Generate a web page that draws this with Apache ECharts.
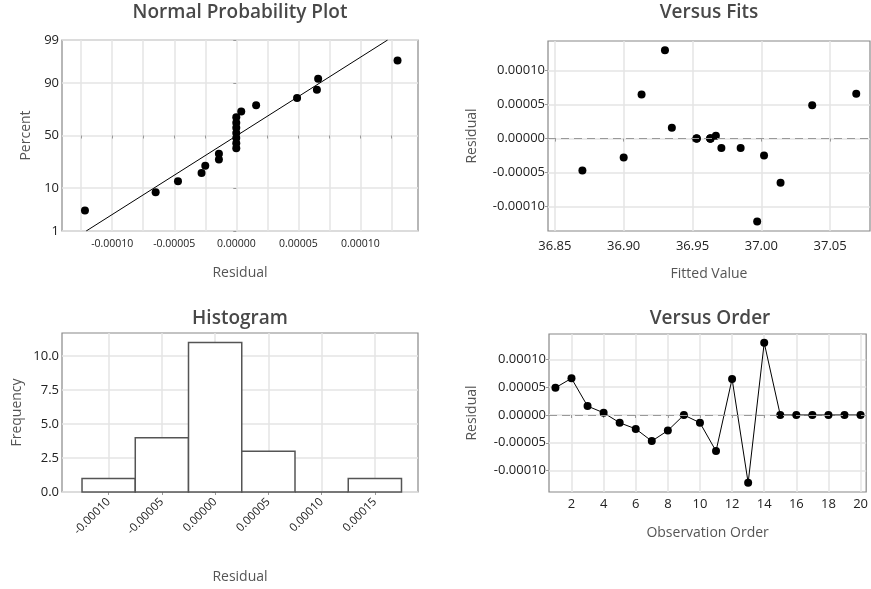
<!DOCTYPE html>
<html>
<head>
<meta charset="utf-8">
<script src="https://cdn.jsdelivr.net/npm/echarts@6/dist/echarts.min.js"></script>
<style>
  html, body { margin: 0; background: #fff; }
  #main { width: 871px; height: 589px; }
</style>
</head>
<body>
<div id="main"></div>
<script>
// residuals in observation order, with the fitted value of each observation
var observations = [1, 2, 3, 4, 5, 6, 7, 8, 9, 10, 11, 12, 13, 14, 15, 16, 17, 18, 19, 20];
var residuals = [0.000049, 0.000066, 0.000016, 0.000004, -0.000014, -0.000025, -0.000047, -0.000028, 0, -0.000014,
  -0.000065, 0.000065, -0.000122, 0.00013, 0, 0, 0, 0, 0, 0];
var fittedValues = [37.037, 37.069, 36.935, 36.967, 36.971, 37.002, 36.870, 36.900, 36.953, 36.985,
  37.014, 36.913, 36.997, 36.930, 36.963, 36.963, 36.953, 36.963, 36.953, 36.963];

// normal probability plot: sorted residuals and their plotted percent
var sortedResiduals = [-0.000122, -0.000065, -0.000047, -0.000028, -0.000025, -0.000014, -0.000014,
  0, 0, 0, 0, 0, 0, 0, 0.000004, 0.000016, 0.000049, 0.000065, 0.000066, 0.00013];
var plotPercents = [3.4, 8.3, 13.2, 18.1, 23.0, 27.9, 32.8, 37.7, 42.6, 47.5,
  52.5, 57.4, 62.3, 67.2, 72.1, 77.0, 81.9, 86.8, 91.7, 96.6];
var fitLineResiduals = [-0.000121, 0.000122];
var fitLinePercents = [1, 99];

// histogram
var binEdges = [-0.000125, -0.000075, -0.000025, 0.000025, 0.000075, 0.000125, 0.000175];
var binCounts = [1, 4, 11, 3, 0, 1];

// tick labels
var percentTicks = [1, 10, 50, 90, 99];
var residualTicks = [-0.0001, -0.00005, 0, 0.00005, 0.0001];
var residualGrid = [-0.000125, -0.0001, -0.000075, -0.00005, -0.000025, 0, 0.000025, 0.00005, 0.000075, 0.0001, 0.000125];
var fitTicks = [36.85, 36.9, 36.95, 37, 37.05];
var histTicks = [-0.0001, -0.00005, 0, 0.00005, 0.0001, 0.00015];
var freqTicks = [0, 2.5, 5, 7.5, 10];
var orderTicks = [2, 4, 6, 8, 10, 12, 14, 16, 18, 20];

// inverse normal cdf, used for the probability scale
function probit(p) {
  var a = [-39.69683028665376, 220.9460984245205, -275.9285104469687, 138.3577518672690, -30.66479806614716, 2.506628277459239];
  var b = [-54.47609879822406, 161.5858368580409, -155.6989798598866, 66.80131188771972, -13.28068155288572];
  var c = [-0.007784894002430293, -0.3223964580411365, -2.400758277161838, -2.549732539343734, 4.374664141464968, 2.938163982698783];
  var d = [0.007784695709041462, 0.3224671290700398, 2.445134137142996, 3.754408661907416];
  var q, r;
  if (p < 0.02425) {
    q = Math.sqrt(-2 * Math.log(p));
    return (((((c[0] * q + c[1]) * q + c[2]) * q + c[3]) * q + c[4]) * q + c[5]) /
      ((((d[0] * q + d[1]) * q + d[2]) * q + d[3]) * q + 1);
  }
  if (p > 1 - 0.02425) return -probit(1 - p);
  q = p - 0.5;
  r = q * q;
  return (((((a[0] * r + a[1]) * r + a[2]) * r + a[3]) * r + a[4]) * r + a[5]) * q /
    (((((b[0] * r + b[1]) * r + b[2]) * r + b[3]) * r + b[4]) * r + 1);
}

var percentZ = percentTicks.map(function (p) { return probit(p / 100); });

var FONT = 'Open Sans';
var TEXT = '#222';
var GRID_LINE = { show: true, lineStyle: { color: '#e4e4e4', width: 1.5 } };

function fmt5(v) { return Math.abs(v) < 1e-12 ? '0.00000' : v.toFixed(5); }

// builds one value axis with custom label and grid positions
function axis(gridIndex, opt) {
  return {
    type: 'value',
    gridIndex: gridIndex,
    min: opt.min,
    max: opt.max,
    name: opt.name,
    nameLocation: 'middle',
    nameGap: opt.nameGap,
    nameTextStyle: { fontFamily: FONT, fontSize: 14, color: '#555' },
    axisLine: { show: false },
    axisTick: { show: true, length: 3, inside: false, customValues: opt.grid || opt.ticks, lineStyle: { color: '#999' } },
    axisLabel: {
      customValues: opt.ticks,
      formatter: opt.formatter,
      fontFamily: FONT,
      fontSize: opt.fontSize || 13,
      color: TEXT,
      margin: opt.margin || 5,
      rotate: opt.rotate || 0,
      showMinLabel: true,
      showMaxLabel: true
    },
    splitLine: GRID_LINE
  };
}

var chart = echarts.init(document.getElementById('main'));

var gridBase = { show: true, borderColor: '#888', borderWidth: 1.2, backgroundColor: '#fff' };

var titleStyle = { fontFamily: FONT, fontSize: 19, fontWeight: 600, color: '#484848' };

var option = {
  animation: false,
  backgroundColor: '#fff',
  title: [
    { text: 'Normal Probability Plot', left: 240, top: 3, textAlign: 'center', padding: 0, textStyle: titleStyle },
    { text: 'Versus Fits', left: 709, top: 3, textAlign: 'center', padding: 0, textStyle: titleStyle },
    { text: 'Histogram', left: 240, top: 309, textAlign: 'center', padding: 0, textStyle: titleStyle },
    { text: 'Versus Order', left: 710, top: 309, textAlign: 'center', padding: 0, textStyle: titleStyle }
  ],
  grid: [
    Object.assign({ left: 62, top: 40, width: 356, height: 191 }, gridBase),
    Object.assign({ left: 548, top: 41, width: 322, height: 190 }, gridBase),
    Object.assign({ left: 62, top: 333, width: 356, height: 159 }, gridBase),
    Object.assign({ left: 549, top: 334, width: 321, height: 158 }, gridBase)
  ],
  xAxis: [
    axis(0, { min: -0.0001405, max: 0.0001465, ticks: residualTicks, grid: residualGrid, formatter: fmt5,
      fontSize: 10.5, margin: 8, name: 'Residual', nameGap: 35 }),
    axis(1, { min: 36.845, max: 37.079, ticks: fitTicks, formatter: function (v) { return v.toFixed(2); },
      margin: 9, name: 'Fitted Value', nameGap: 36 }),
    axis(2, { min: -0.0001438, max: 0.0001905, ticks: histTicks, formatter: fmt5,
      fontSize: 11.5, rotate: 45, margin: 8, name: 'Residual', nameGap: 78 }),
    axis(3, { min: 0.6, max: 20.35, ticks: orderTicks, formatter: function (v) { return String(v); },
      margin: 6, name: 'Observation Order', nameGap: 34 })
  ],
  yAxis: [
    axis(0, { min: percentZ[0], max: percentZ[4], ticks: percentZ,
      formatter: function (v) {
        for (var i = 0; i < percentZ.length; i++) {
          if (Math.abs(percentZ[i] - v) < 1e-6) return String(percentTicks[i]);
        }
        return '';
      },
      margin: 3, name: 'Percent', nameGap: 29 }),
    axis(1, { min: -0.0001359, max: 0.0001435, ticks: residualTicks, formatter: fmt5,
      margin: 3, name: 'Residual', nameGap: 69 }),
    axis(2, { min: 0, max: 11.7, ticks: freqTicks, formatter: function (v) { return v.toFixed(1); },
      margin: 3, name: 'Frequency', nameGap: 38 }),
    axis(3, { min: -0.0001386, max: 0.0001458, ticks: residualTicks, formatter: fmt5,
      margin: 3, name: 'Residual', nameGap: 70 })
  ],
  series: [
    {
      type: 'line',
      xAxisIndex: 0,
      yAxisIndex: 0,
      data: fitLineResiduals.map(function (r, i) { return [r, probit(fitLinePercents[i] / 100)]; }),
      symbol: 'none',
      lineStyle: { color: '#000', width: 1 },
      silent: true
    },
    {
      type: 'scatter',
      xAxisIndex: 0,
      yAxisIndex: 0,
      data: sortedResiduals.map(function (r, i) { return [r, probit(plotPercents[i] / 100)]; }),
      symbolSize: 8,
      itemStyle: { color: '#000', opacity: 1 }
    },
    {
      type: 'scatter',
      xAxisIndex: 1,
      yAxisIndex: 1,
      data: fittedValues.map(function (f, i) { return [f, residuals[i]]; }),
      symbolSize: 8,
      itemStyle: { color: '#000', opacity: 1 },
      markLine: {
        silent: true,
        symbol: 'none',
        label: { show: false },
        lineStyle: { color: '#999', type: [8, 5], width: 1.2 },
        data: [{ yAxis: 0 }]
      }
    },
    {
      type: 'custom',
      xAxisIndex: 2,
      yAxisIndex: 2,
      data: binCounts.map(function (c, i) { return [binEdges[i], binEdges[i + 1], c]; }),
      renderItem: function (params, api) {
        var p0 = api.coord([api.value(0), api.value(2)]);
        var p1 = api.coord([api.value(1), 0]);
        return {
          type: 'rect',
          shape: { x: p0[0], y: p0[1], width: p1[0] - p0[0], height: p1[1] - p0[1] },
          style: { fill: '#fff', stroke: '#555', lineWidth: 1.5 }
        };
      }
    },
    {
      type: 'line',
      xAxisIndex: 3,
      yAxisIndex: 3,
      data: observations.map(function (o, i) { return [o, residuals[i]]; }),
      symbol: 'circle',
      symbolSize: 8,
      showAllSymbol: true,
      itemStyle: { color: '#000' },
      lineStyle: { color: '#000', width: 1 },
      markLine: {
        silent: true,
        symbol: 'none',
        label: { show: false },
        lineStyle: { color: '#999', type: [8, 5], width: 1.2 },
        data: [{ yAxis: 0 }]
      }
    }
  ]
};

chart.setOption(option);
</script>
</body>
</html>
